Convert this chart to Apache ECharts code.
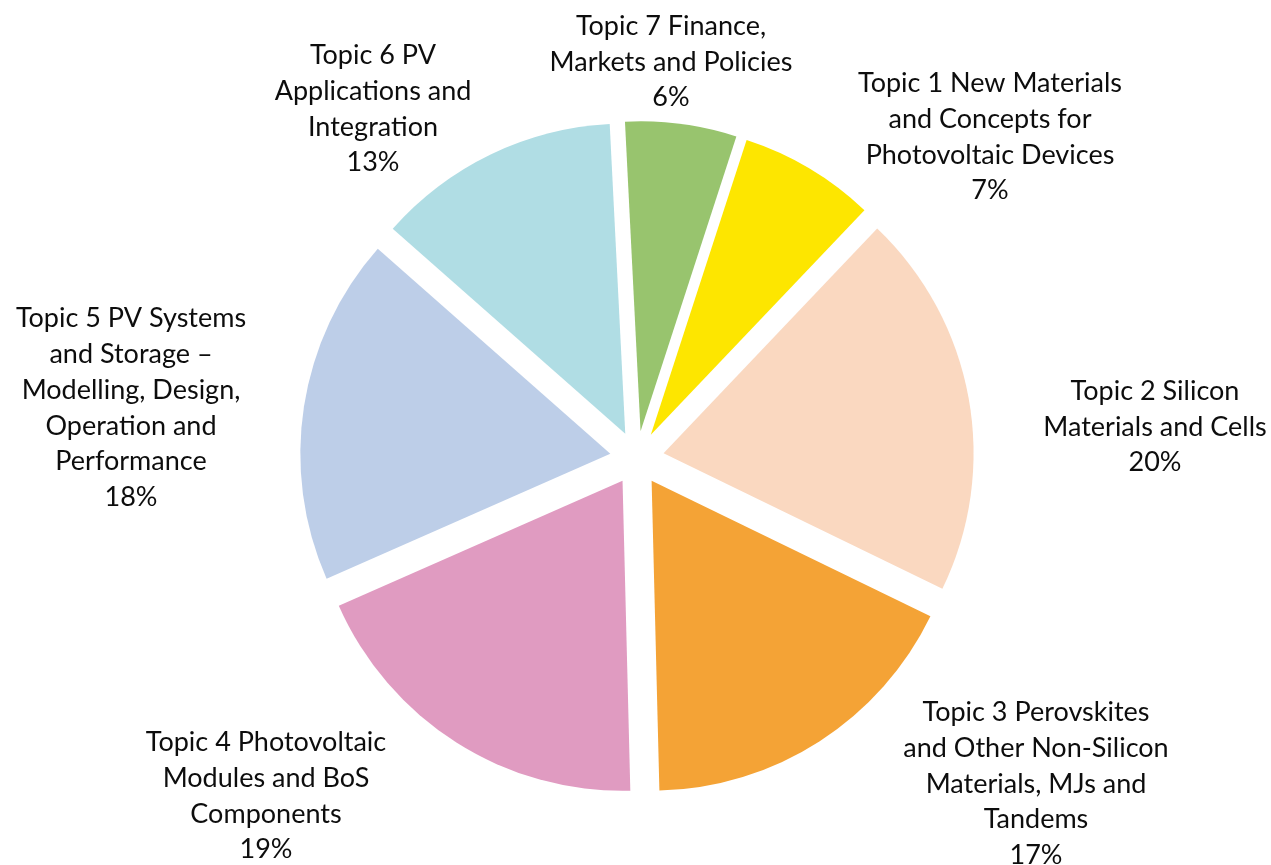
<!DOCTYPE html>
<html>
<head>
<meta charset="utf-8">
<script src="https://cdn.jsdelivr.net/npm/echarts@6/dist/echarts.min.js"></script>
<style>
html,body{margin:0;padding:0;background:#fff;}
#chart{width:1271px;height:865px;}
</style>
</head>
<body>
<div id="chart"></div>
<script>
// Categories (clockwise drawing order)
var categories = [
  "Topic 1 New Materials\nand Concepts for\nPhotovoltaic Devices",
  "Topic 2 Silicon\nMaterials and Cells",
  "Topic 3 Perovskites\nand Other Non-Silicon\nMaterials, MJs and\nTandems",
  "Topic 4 Photovoltaic\nModules and BoS\nComponents",
  "Topic 5 PV Systems\nand Storage –\nModelling, Design,\nOperation and\nPerformance",
  "Topic 6 PV\nApplications and\nIntegration",
  "Topic 7 Finance,\nMarkets and Policies"
];
// Shares (percent)
var shares = [7.1, 20.1, 17.4, 18.8, 18.1, 12.7, 5.8];

// Styling / layout (not data)
var colors = ["#FDE600", "#FAD8C0", "#F4A336", "#E09BC1", "#BDCEE8", "#B0DDE4", "#98C46E"];
var pieCenter = [637, 458];
var labelOffsets = [[353, -321], [518, -31], [399, 326], [-371, 338], [-506, -50], [-264, -349], [34, -396]];

var chart = echarts.init(document.getElementById('chart'), null, {renderer: 'canvas'});

var sliceData = categories.map(function (c, i) {
  return {name: c, value: shares[i], selected: true, itemStyle: {color: colors[i]}};
});
var labelData = categories.map(function (c, i) {
  return {name: c, value: shares[i]};
});

chart.setOption({
  animation: false,
  backgroundColor: '#ffffff',
  series: [{
    // exploded slices
    type: 'pie',
    center: pieCenter,
    radius: [0, 310],
    startAngle: 72,
    clockwise: true,
    selectedMode: 'multiple',
    selectedOffset: 27,
    silent: true,
    data: sliceData,
    itemStyle: {borderWidth: 0},
    select: {itemStyle: {borderWidth: 0}},
    label: {show: false},
    labelLine: {show: false}
  }, {
    // data labels (same geometry, invisible sectors)
    type: 'pie',
    center: pieCenter,
    radius: [0, 310],
    startAngle: 72,
    clockwise: true,
    percentPrecision: 0,
    silent: true,
    avoidLabelOverlap: false,
    z: 5,
    data: labelData,
    itemStyle: {color: 'rgba(0,0,0,0)', borderWidth: 0},
    label: {
      show: true,
      position: 'outside',
      formatter: '{b}\n{d}%',
      fontFamily: 'Lato',
      fontSize: 27,
      lineHeight: 35.7,
      color: '#0d0d0d'
    },
    labelLine: {show: false},
    labelLayout: function (p) {
      var o = labelOffsets[p.dataIndex];
      return {x: pieCenter[0] + o[0], y: pieCenter[1] + o[1], align: 'center', verticalAlign: 'middle'};
    }
  }]
});
</script>
</body>
</html>
